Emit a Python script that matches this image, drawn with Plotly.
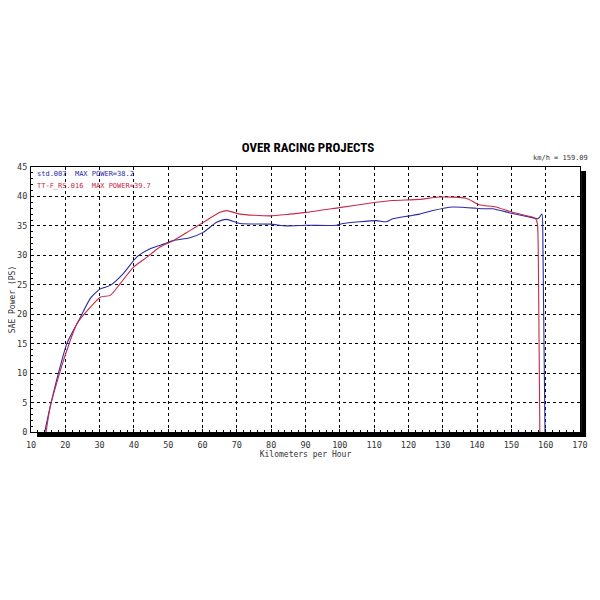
import plotly.graph_objects as go

# km/h and SAE power (PS)
std_speed = [14.0, 15.6, 18.0, 20.5, 24.4, 27.3, 30.2, 33.1, 36.9, 40.8, 44.7, 48.6, 51.5, 56.3,
             60.2, 64.1, 67.0, 70.9, 79.6, 84.5, 90.3, 99.0, 100.9, 110.6, 113.5, 115.4, 120.3,
             123.2, 127.1, 132.9, 139.7, 141.6, 144.5, 150.3, 156.1, 157.6, 158.1, 158.9, 159.2, 159.8]
std_power = [0.0, 4.3, 10.0, 15.1, 19.5, 22.7, 24.3, 24.9, 26.9, 29.7, 31.1, 31.9, 32.5, 33.0,
             33.9, 35.6, 36.1, 35.4, 35.3, 35.0, 35.1, 35.1, 35.4, 35.9, 35.7, 36.2, 36.7,
             37.0, 37.6, 38.2, 38.0, 37.9, 37.9, 37.1, 36.4, 36.2, 36.4, 37.0, 31.4, 0.0]

rs_speed = [14.4, 15.6, 19.5, 23.4, 27.3, 30.2, 33.1, 36.0, 39.9, 43.8, 47.6, 51.5, 56.3, 60.2,
            65.1, 67.0, 70.9, 79.6, 85.4, 90.3, 99.9, 110.6, 115.4, 123.2, 129.0, 136.8, 140.6,
            145.5, 150.3, 156.1, 157.1, 157.6, 157.9, 158.3]
rs_power = [0.0, 4.3, 12.2, 18.4, 21.2, 22.9, 23.2, 25.2, 28.0, 29.7, 31.4, 32.5, 34.2, 35.6,
            37.3, 37.6, 37.0, 36.7, 37.0, 37.3, 38.1, 39.0, 39.3, 39.5, 39.9, 39.7, 38.6,
            38.2, 37.3, 36.5, 36.2, 35.3, 26.9, 0.0]

legend_labels = ["std.007  MAX POWER=38.2", "TT-F_RS.016  MAX POWER=39.7"]
title_text = "OVER RACING PROJECTS"
speed_note = "km/h = 159.09"

FONT = "DejaVu Sans Mono"
BLUE = "#2a2aa8"
RED = "#c8284a"
TXT = "#333"

fig = go.Figure()
fig.add_trace(go.Scatter(x=std_speed, y=std_power, mode="lines",
                         line=dict(color=BLUE, width=1.1, shape="spline", smoothing=0.6),
                         showlegend=False))
fig.add_trace(go.Scatter(x=rs_speed, y=rs_power, mode="lines",
                         line=dict(color=RED, width=1.1, shape="spline", smoothing=0.6),
                         showlegend=False))

axis_common = dict(
    showline=True, linecolor="black", linewidth=1, mirror=True,
    showgrid=True, gridcolor="black", griddash="dot", gridwidth=1,
    ticks="inside", ticklen=3, tickcolor="black",
    tickfont=dict(family=FONT, size=8.5, color=TXT),
    zeroline=False, automargin=False,
)

fig.update_xaxes(range=[10, 170], dtick=10, tick0=10, ticklabelstandoff=5,
                 title=dict(text="Kilometers per Hour", font=dict(family=FONT, size=8, color=TXT),
                            standoff=0),
                 minor=dict(dtick=2, ticks="inside", ticklen=2, tickcolor="black", showgrid=False),
                 **axis_common)
fig.update_yaxes(range=[0, 45], dtick=5, ticklabelstandoff=1,
                 title=dict(text="SAE Power (PS)", font=dict(family=FONT, size=8, color=TXT),
                            standoff=8),
                 minor=dict(dtick=1, ticks="inside", ticklen=2, tickcolor="black", showgrid=False),
                 **axis_common)

# shadow bars (bottom and right)
fig.add_shape(type="rect", xref="paper", yref="paper", x0=0.011, x1=1.011, y0=-0.019, y1=-0.004,
              fillcolor="black", line=dict(width=0))
fig.add_shape(type="rect", xref="paper", yref="paper", x0=1.002, x1=1.011, y0=-0.019, y1=0.985,
              fillcolor="black", line=dict(width=0))

fig.add_annotation(xref="paper", yref="paper", x=0.008, y=0.974, xanchor="left", yanchor="middle",
                   text=legend_labels[0], showarrow=False,
                   font=dict(family=FONT, size=7, color=BLUE))
fig.add_annotation(xref="paper", yref="paper", x=0.008, y=0.928, xanchor="left", yanchor="middle",
                   text=legend_labels[1], showarrow=False,
                   font=dict(family=FONT, size=7, color=RED))
fig.add_annotation(xref="paper", yref="paper", x=1.018, y=1.035, xanchor="right", yanchor="middle",
                   text=speed_note, showarrow=False,
                   font=dict(family=FONT, size=7, color=TXT))

fig.update_layout(
    width=600, height=600,
    margin=dict(l=23, r=28, t=159, b=176),
    paper_bgcolor="white", plot_bgcolor="white",
    title=dict(text="<b>" + title_text + "</b>", x=0.5, xanchor="center", y=0.768, yanchor="middle",
               font=dict(family="Liberation Sans Narrow, Roboto Condensed, DejaVu Sans Condensed",
                         size=13, color="black")),
)

fig.write_html("out.html")
